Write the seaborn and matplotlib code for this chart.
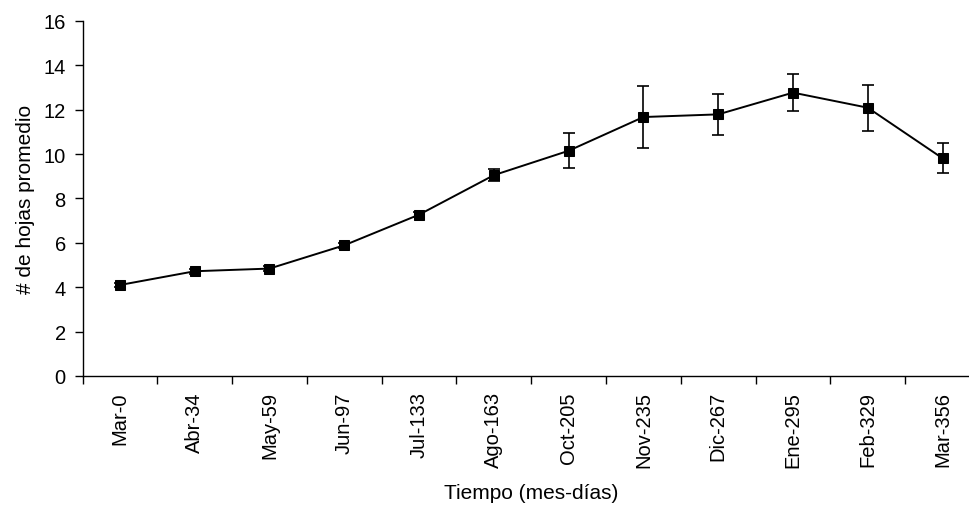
import numpy as np
import pandas as pd
import seaborn as sns
import matplotlib.pyplot as plt
from matplotlib.ticker import MultipleLocator, FixedLocator

## datos
meses = ["Mar-0", "Abr-34", "May-59", "Jun-97", "Jul-133", "Ago-163",
         "Oct-205", "Nov-235", "Dic-267", "Ene-295", "Feb-329", "Mar-356"]
hojas = [4.1, 4.72, 4.84, 5.89, 7.27, 9.05, 10.15, 11.67, 11.79, 12.77, 12.09, 9.81]
error = [0.1, 0.12, 0.12, 0.1, 0.12, 0.28, 0.78, 1.4, 0.93, 0.85, 1.03, 0.68]

df = pd.DataFrame({"mes": meses, "hojas": hojas, "err": error})

sns.set_style("white")
plt.rcParams["font.family"] = ["Liberation Sans", "DejaVu Sans"]
plt.rcParams["text.color"] = "black"
plt.rcParams["axes.labelcolor"] = "black"
plt.rcParams["xtick.color"] = "black"
plt.rcParams["ytick.color"] = "black"

fig = plt.figure(figsize=(9.69, 5.06), dpi=100)
ax = fig.add_axes([82.5 / 969, 0.255, (980 - 82.5) / 969, 0.7016])

pos = np.arange(len(meses))
ax.errorbar(pos, df.hojas, yerr=df.err, fmt="none", ecolor="black",
            elinewidth=1.2, capsize=4.3, capthick=1.2, zorder=2)
sns.lineplot(x=pos, y=df.hojas, ax=ax, color="black", linewidth=1.4,
             marker="s", markersize=7.3, markeredgecolor="black", zorder=3)

ax.set_xlim(-0.5, 11.5)
ax.set_ylim(0, 16)
ax.yaxis.set_major_locator(MultipleLocator(2))
ax.set_xticks(pos)
ax.set_xticklabels(meses, rotation=90, fontsize=14.5)
ax.xaxis.set_minor_locator(FixedLocator(np.arange(-0.5, 12, 1)))
ax.tick_params(axis="x", which="major", length=0, pad=11)
ax.tick_params(axis="x", which="minor", length=6, width=1, color="black", direction="out", bottom=True)
ax.tick_params(axis="y", length=6, width=1, color="black", direction="out", left=True, labelsize=14.5, pad=6)

for s in ["top", "right"]:
    ax.spines[s].set_visible(False)
for s in ["left", "bottom"]:
    ax.spines[s].set_color("black")
    ax.spines[s].set_linewidth(1)

ax.set_ylabel("# de hojas promedio", fontsize=15, labelpad=6)
ax.set_xlabel("Tiempo (mes-días)", fontsize=15, labelpad=11)

fig.savefig("out.png", dpi=100)
